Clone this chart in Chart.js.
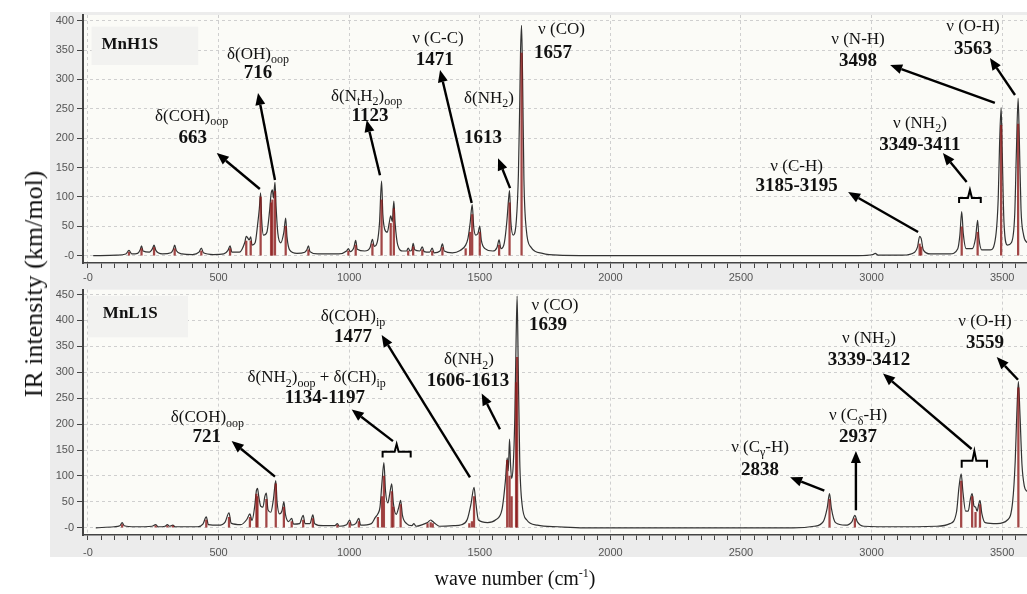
<!DOCTYPE html>
<html>
<head>
<meta charset="utf-8">
<title>IR spectra MnH1S / MnL1S</title>
<script src="https://cdn.jsdelivr.net/npm/chart.js@4.4.1/dist/chart.umd.min.js"></script>
<style>
  body { margin: 0; width: 1027px; height: 594px; overflow: hidden; position: relative; background: #fff; font-family: "Liberation Serif", "Times New Roman", serif; }
  #panelBg { position: absolute; left: 50px; top: 12px; width: 977px; height: 545px; background: #ececec; }
  canvas { position: absolute; left: 0; }
  #topChart { top: 0; }
  #bottomChart { top: 280px; }
  #yTitle { position: absolute; left: 34px; top: 284px; transform: translate(-50%, -50%) rotate(-90deg); font-size: 26px; white-space: nowrap; color: #111; }
  #xTitle { position: absolute; left: 515px; top: 578px; transform: translate(-50%, -50%); font-size: 20px; white-space: nowrap; color: #111; }
  #xTitle sup { font-size: 12px; }
</style>
</head>
<body>
<div id="panelBg"></div>
<canvas id="topChart" width="1027" height="285"></canvas>
<canvas id="bottomChart" width="1027" height="300"></canvas>
<div id="yTitle">IR intensity (km/mol)</div>
<div id="xTitle">wave number (cm<sup>-1</sup>)</div>

<script>
// ---- data: [wave number, intensity] ----

// MnH1S, broadened spectrum
const h1sEnvelope = [[20,0],[110,1],[145,3],[157,9],[168,3],[190,4],[200,10],[205,17],[211,8],[235,6],[247,12],[253,18],[260,9],[285,3],[318,5],[326,10],[332,18],[338,9],[360,3],[400,2],[425,6],[434,13],[442,5],[480,2],[520,3],[536,9],[544,17],[551,6],[580,6],[600,22],[606,33],[612,30],[617,27],[623,32],[628,18],[640,22],[650,55],[656,80],[661,107],[665,62],[672,35],[685,40],[695,75],[701,105],[706,112],[710,98],[716,125],[720,85],[727,38],[738,22],[750,40],[757,64],[762,32],[772,10],[800,4],[830,6],[838,10],[844,17],[850,7],[880,3],[960,3],[990,8],[997,12],[1004,7],[1018,14],[1025,26],[1031,11],[1060,8],[1080,14],[1089,28],[1096,16],[1108,24],[1116,55],[1124,127],[1129,70],[1136,45],[1146,40],[1153,55],[1159,68],[1165,58],[1171,93],[1176,55],[1186,18],[1205,8],[1220,8],[1226,13],[1233,8],[1240,10],[1245,21],[1251,10],[1270,8],[1280,15],[1287,7],[1308,6],[1318,13],[1325,5],[1348,8],[1357,20],[1364,8],[1395,5],[1425,9],[1446,18],[1455,30],[1463,55],[1471,87],[1477,48],[1485,35],[1493,38],[1500,50],[1506,26],[1520,12],[1550,8],[1566,14],[1574,27],[1581,12],[1594,22],[1604,60],[1610,95],[1614,111],[1619,58],[1628,35],[1640,60],[1648,140],[1653,260],[1656,345],[1660,392],[1664,300],[1669,130],[1678,45],[1695,15],[1740,4],[1800,1],[2000,0],[2950,0],[3005,2],[3014,4],[3025,1],[3120,1],[3165,6],[3176,15],[3184,33],[3190,29],[3198,10],[3225,3],[3300,3],[3330,12],[3338,35],[3345,75],[3351,38],[3362,12],[3385,12],[3398,30],[3406,60],[3411,30],[3422,10],[3455,10],[3475,32],[3485,100],[3490,190],[3496,252],[3500,180],[3507,55],[3520,18],[3535,22],[3548,70],[3554,170],[3561,268],[3565,210],[3572,80],[3582,35],[3595,22]];

// MnH1S, computed sticks
const h1sSticks = [[157,6],[205,12],[253,14],[332,12],[434,8],[544,12],[606,25],[623,25],[661,100],[701,90],[706,95],[716,110],[757,50],[844,10],[997,8],[1025,18],[1089,20],[1124,95],[1159,55],[1171,80],[1226,8],[1245,15],[1280,10],[1318,8],[1357,14],[1446,12],[1463,40],[1471,70],[1500,40],[1574,18],[1614,90],[1660,345],[3184,20],[3190,15],[3345,49],[3406,40],[3496,222],[3561,224]];

// MnL1S, broadened spectrum
const l1sEnvelope = [[30,0],[100,2],[122,4],[131,10],[139,4],[180,2],[245,3],[259,6],[268,2],[295,3],[304,6],[312,3],[325,5],[334,2],[420,2],[440,7],[453,21],[461,6],[500,5],[525,11],[540,29],[548,9],[585,6],[608,16],[620,27],[628,14],[638,40],[645,72],[649,76],[654,60],[661,42],[670,40],[677,60],[683,67],[689,35],[700,30],[710,55],[719,91],[724,50],[733,27],[743,33],[750,50],[756,26],[768,12],[780,18],[787,7],[810,8],[824,24],[831,8],[850,8],[861,25],[868,8],[900,4],[945,4],[955,8],[962,3],[990,6],[1002,15],[1009,5],[1025,8],[1037,18],[1044,5],[1085,8],[1100,20],[1110,27],[1118,40],[1126,90],[1133,126],[1139,72],[1148,48],[1156,68],[1163,85],[1169,48],[1180,26],[1190,40],[1197,53],[1204,24],[1220,8],[1240,4],[1248,8],[1256,3],[1280,6],[1300,10],[1312,15],[1320,12],[1330,8],[1345,3],[1400,4],[1430,6],[1452,16],[1466,45],[1478,78],[1485,48],[1495,15],[1530,10],[1560,15],[1585,35],[1598,90],[1605,135],[1609,110],[1614,171],[1618,120],[1622,95],[1628,120],[1634,210],[1639,360],[1643,447],[1647,320],[1653,130],[1662,45],[1680,15],[1720,5],[1800,2],[1900,0],[2700,0],[2780,3],[2815,12],[2830,38],[2839,66],[2846,38],[2862,10],[2900,5],[2925,12],[2936,24],[2945,12],[2970,3],[3100,2],[3250,3],[3300,8],[3325,30],[3335,80],[3343,104],[3350,68],[3360,32],[3370,32],[3378,55],[3385,66],[3392,42],[3398,40],[3404,32],[3410,45],[3415,53],[3422,28],[3435,10],[3480,8],[3520,15],[3540,50],[3550,130],[3556,220],[3562,282],[3568,220],[3576,120],[3585,80],[3595,70]];

// MnL1S, computed sticks
const l1sSticks = [[131,6],[259,4],[304,4],[325,4],[453,15],[540,20],[620,20],[645,65],[649,60],[683,55],[719,85],[750,40],[780,12],[824,15],[861,18],[955,5],[1002,10],[1037,12],[1110,20],[1126,60],[1133,100],[1163,70],[1169,40],[1197,45],[1300,8],[1312,10],[1320,8],[1460,8],[1470,12],[1478,60],[1605,130],[1614,100],[1622,60],[1639,280],[1643,329],[2839,55],[2936,18],[3343,90],[3385,60],[3398,30],[3415,45],[3562,270]];

// axis ticks
const xMajorTicks = [0, 500, 1000, 1500, 2000, 2500, 3000, 3500];
const xMinorStep = 50;
const topYTicks = [0, 50, 100, 150, 200, 250, 300, 350, 400];
const bottomYTicks = [0, 50, 100, 150, 200, 250, 300, 350, 400, 450];

// band assignments: [text, wave number, intensity, bold]
const topLabels = [
  ["δ(COH)_{oop}", 397, 239.5, false], ["663", 401, 202, true],
  ["δ(OH)_{oop}", 651, 345, false], ["716", 651, 312.7, true],
  ["δ(N_{t}H_{2})_{oop}", 1067, 273.5, false], ["1123", 1080, 239.5, true],
  ["ν (C-C)", 1340, 372, false], ["1471", 1328, 334.8, true],
  ["δ(NH_{2})", 1535, 270, false], ["1613", 1512, 202, true],
  ["ν (CO)", 1813, 387.6, false], ["1657", 1780, 346.7, true],
  ["ν (N-H)", 2948, 370.6, false], ["3498", 2948, 333, true],
  ["ν (O-H)", 3388, 392.7, false], ["3563", 3388, 353.5, true],
  ["ν (NH_{2})", 3185, 227.6, false], ["3349-3411", 3185, 190, true],
  ["ν (C-H)", 2713, 154.4, false], ["3185-3195", 2713, 120.3, true]
];
// arrows: [from x, from y, to x, to y]
const topArrows = [
  [658, 113.5, 493, 174.8], [716, 129, 651, 277], [1118, 137, 1067, 231],
  [1469, 89.7, 1348, 316], [1616, 115, 1570, 166], [3472, 260, 3071, 324.6],
  [3549, 273.5, 3453, 336.5], [3364, 125.4, 3273, 174.8], [3178, 40.3, 2910, 108.4]
];
// brackets: [x start, x end, line y, end y, middle y]
const topBrackets = [[3335, 3418, 98.2, 89.7, 112]];

const bottomLabels = [
  ["δ(COH)_{oop}", 457.5, 215, false], ["721", 454.4, 176.8, true],
  ["δ(NH_{2})_{oop} + δ(CH)_{ip}", 875.6, 291.2, false], ["1134-1197", 907.4, 253, true],
  ["δ(COH)_{ip}", 1014.5, 409.4, false], ["1477", 1014.5, 371.3, true],
  ["δ(NH_{2})", 1458.6, 326, false], ["1606-1613", 1454.8, 285.5, true],
  ["ν (CO)", 1788, 431, false], ["1639", 1761, 392.8, true],
  ["ν (O-H)", 3434, 400, false], ["3559", 3434, 358, true],
  ["ν (NH_{2})", 2990, 367.5, false], ["3339-3412", 2990, 326, true],
  ["ν (C_{δ}-H)", 2948, 218.7, false], ["2937", 2948, 176.8, true],
  ["ν (C_{γ}-H)", 2573, 157.7, false], ["2838", 2573, 113.8, true]
];
const bottomArrows = [
  [716, 98.6, 550, 167.2], [1167.7, 167.2, 1009.6, 228.3], [1462.5, 97.3, 1124.4, 371.9],
  [1577.3, 190, 1507.3, 259.3], [3560.5, 285.5, 3479, 329.3], [3383, 152, 3043.6, 297.5],
  [2940, 33.8, 2940, 148.2], [2819, 71.9, 2688, 97.3]
];
const bottomBrackets = [[1128, 1235.5, 146.8, 135.4, 161.5], [3345, 3442, 129.1, 115.7, 148.2]];

const SERIF = '"Liberation Serif", "Times New Roman", serif';
const SANS = '"Liberation Sans", Arial, sans-serif';

// Draw text with _{...} subscripts, centred on (cx, cy)
function richText(ctx, str, cx, cy, size, bold) {
  const parts = [];
  const re = /_\{([^}]*)\}/g;
  let last = 0, m;
  while ((m = re.exec(str))) {
    if (m.index > last) parts.push([str.slice(last, m.index), false]);
    parts.push([m[1], true]);
    last = re.lastIndex;
  }
  if (last < str.length) parts.push([str.slice(last), false]);

  const fontFor = (sub) => (bold ? "bold " : "") + (sub ? Math.round(size * 0.72) : size) + "px " + SERIF;
  let w = 0;
  parts.forEach((p) => { ctx.font = fontFor(p[1]); w += ctx.measureText(p[0]).width; });
  let x = cx - w / 2;
  const base = cy + size * 0.33;
  ctx.textAlign = "left";
  ctx.textBaseline = "alphabetic";
  parts.forEach((p) => {
    ctx.font = fontFor(p[1]);
    ctx.fillText(p[0], x, p[1] ? base + size * 0.27 : base);
    x += ctx.measureText(p[0]).width;
  });
}

function drawArrow(ctx, x1, y1, x2, y2) {
  const a = Math.atan2(y2 - y1, x2 - x1);
  const len = 12, half = 5;
  const bx = x2 - len * Math.cos(a), by = y2 - len * Math.sin(a);
  ctx.lineWidth = 2.4;
  ctx.beginPath();
  ctx.moveTo(x1, y1);
  ctx.lineTo(bx, by);
  ctx.stroke();
  ctx.beginPath();
  ctx.moveTo(x2, y2);
  ctx.lineTo(bx - half * Math.sin(a), by + half * Math.cos(a));
  ctx.lineTo(bx + half * Math.sin(a), by - half * Math.cos(a));
  ctx.closePath();
  ctx.fill();
}

// plot background, sample box, labels, arrows and brackets
const notesPlugin = {
  id: "notes",
  beforeDraw(chart) {
    // cream plot area, painted before the grid so the dashed lines show
    const { ctx, chartArea } = chart;
    ctx.save();
    ctx.fillStyle = "#fbfbf7";
    ctx.fillRect(chartArea.left, chartArea.top, chartArea.right - chartArea.left, chartArea.bottom - chartArea.top);
    ctx.restore();
  },
  afterDatasetsDraw(chart, args, opts) {
    const { ctx } = chart;
    const xs = chart.scales.x, ys = chart.scales.y;
    const px = (v) => xs.getPixelForValue(v);
    const py = (v) => ys.getPixelForValue(v);
    ctx.save();

    const b = opts.box;
    ctx.fillStyle = "#f2f2f0";
    ctx.fillRect(px(b.x0), py(b.y0), px(b.x1) - px(b.x0), py(b.y1) - py(b.y0));
    ctx.fillStyle = "#111";
    ctx.font = "bold 17px " + SERIF;
    ctx.textAlign = "left";
    ctx.textBaseline = "middle";
    ctx.fillText(b.name, px(b.tx), py(b.ty));

    ctx.fillStyle = "#111";
    opts.labels.forEach((l) => richText(ctx, l[0], px(l[1]), py(l[2]), l[3] ? 19 : 17, l[3]));

    ctx.strokeStyle = "#000";
    ctx.fillStyle = "#000";
    opts.arrows.forEach((a) => drawArrow(ctx, px(a[0]), py(a[1]), px(a[2]), py(a[3])));

    ctx.lineWidth = 2;
    opts.brackets.forEach((k) => {
      const x1 = px(k[0]), x2 = px(k[1]), xm = (x1 + x2) / 2;
      const yl = py(k[2]), ye = py(k[3]), ym = py(k[4]);
      ctx.beginPath();
      ctx.moveTo(x1, ye);
      ctx.lineTo(x1, yl);
      ctx.lineTo(xm - 2, yl);
      ctx.lineTo(xm, ym);
      ctx.lineTo(xm + 2, yl);
      ctx.lineTo(x2, yl);
      ctx.lineTo(x2, ye);
      ctx.stroke();
    });
    ctx.restore();
  },
};

const xTickValues = [];
for (let v = 0; v <= 3550; v += xMinorStep) xTickValues.push(v);

function buildChart(id, s) {
  return new Chart(document.getElementById(id), {
    type: "bar",
    data: {
      datasets: [
        {
          type: "bar",
          data: s.sticks.map((p) => ({ x: p[0], y: p[1] })),
          backgroundColor: "rgba(140, 25, 25, 0.8)",
          barThickness: 1.6,
          order: 0,
        },
        {
          type: "line",
          data: s.envelope.map((p) => ({ x: p[0], y: p[1] })),
          borderColor: "#333",
          borderWidth: 1.2,
          pointRadius: 0,
          cubicInterpolationMode: "monotone",
          order: 1,
        },
      ],
    },
    options: {
      responsive: false,
      animation: false,
      devicePixelRatio: 1,
      layout: { padding: { top: s.padTop, left: 0, right: 0, bottom: 0 } },
      plugins: {
        legend: { display: false },
        tooltip: { enabled: false },
        notes: { box: s.box, labels: s.labels, arrows: s.arrows, brackets: s.brackets },
      },
      scales: {
        x: {
          type: "linear",
          min: -19,
          max: 3595,
          offset: false,
          afterBuildTicks: (ax) => { ax.ticks = xTickValues.map((v) => ({ value: v })); },
          afterFit: (ax) => { ax.height = s.xAxisHeight; },
          ticks: {
            autoSkip: false,
            maxRotation: 0,
            color: "#555",
            padding: s.xLabelPad,
            font: { family: SANS, size: 11 },
            callback: (v) => (xMajorTicks.includes(v) ? (v === 0 ? "-0" : String(v)) : ""),
          },
          grid: {
            offset: false,
            color: (c) => (c.tick && xMajorTicks.includes(c.tick.value) ? "#cfcfcf" : "rgba(0,0,0,0)"),
            tickColor: "#444",
            tickLength: 5,
          },
          border: { color: "#444", width: 1.5, dash: [3, 3] },
        },
        y: {
          min: s.yMin,
          max: s.yMax,
          afterBuildTicks: (ax) => { ax.ticks = s.yTicks.map((v) => ({ value: v })); },
          afterFit: (ax) => { ax.width = 83; },
          ticks: {
            color: "#555",
            padding: 3,
            font: { family: SANS, size: 11 },
            callback: (v) => (v === 0 ? "-0" : String(v)),
          },
          grid: { color: "#cfcfcf", tickColor: "#444", tickLength: 6 },
          border: { color: "#444", width: 2, dash: [3, 3] },
        },
      },
    },
    plugins: [notesPlugin],
  });
}

buildChart("topChart", {
  envelope: h1sEnvelope,
  sticks: h1sSticks,
  yMin: -12.4,
  yMax: 409.7,
  yTicks: topYTicks,
  padTop: 15,
  xAxisHeight: 22,
  xLabelPad: 3,
  labels: topLabels,
  arrows: topArrows,
  brackets: topBrackets,
  box: { name: "MnH1S", x0: 14, x1: 422, y0: 389.8, y1: 324.6, tx: 52, ty: 358.6 },
});

buildChart("bottomChart", {
  envelope: l1sEnvelope,
  sticks: l1sSticks,
  yMin: -13.9,
  yMax: 459.5,
  yTicks: bottomYTicks,
  padTop: 6,
  xAxisHeight: 45,
  xLabelPad: 6,
  labels: bottomLabels,
  arrows: bottomArrows,
  brackets: bottomBrackets,
  box: { name: "MnL1S", x0: 0, x1: 383, y0: 447.6, y1: 367.5, tx: 57, ty: 413.8 },
});
</script>
</body>
</html>
